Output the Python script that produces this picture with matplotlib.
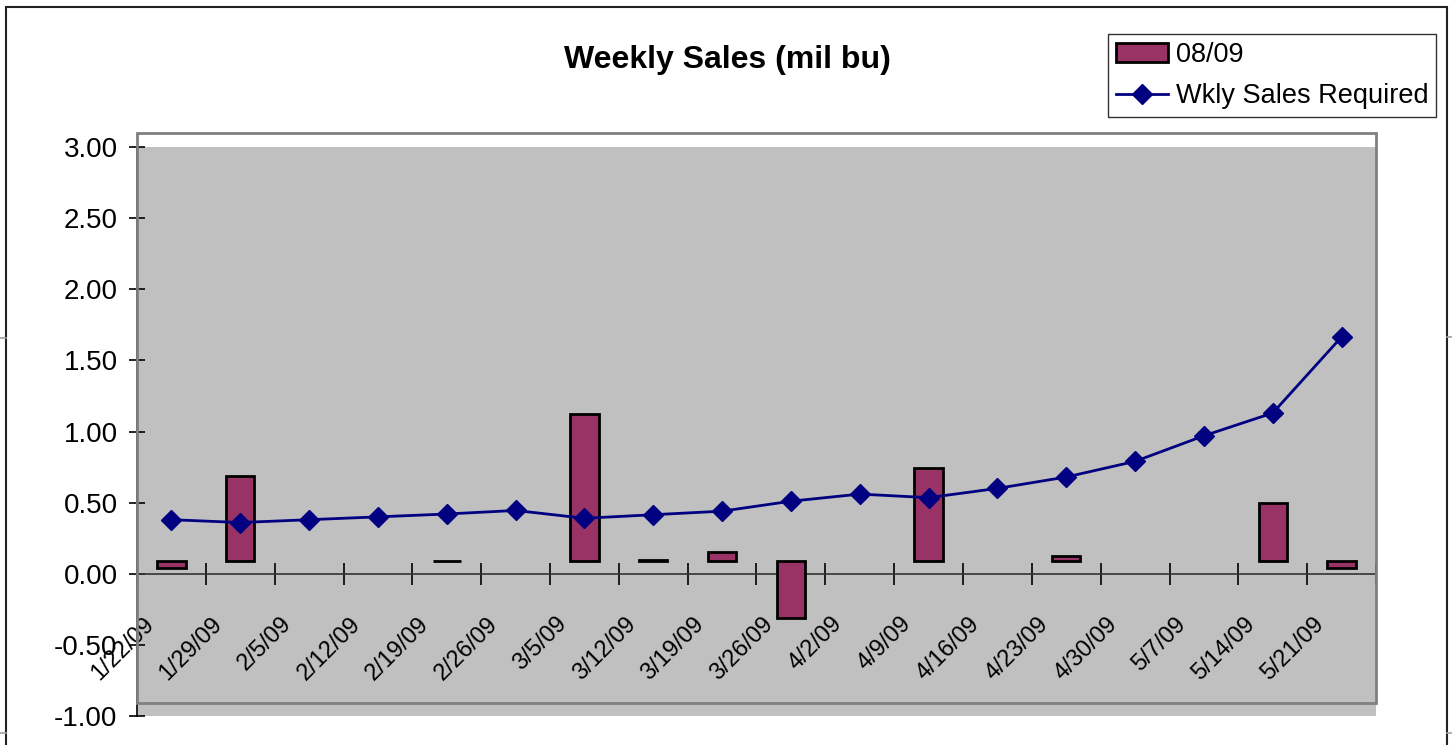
import numpy as np
import matplotlib
matplotlib.use("Agg")
import matplotlib.pyplot as plt
from matplotlib.patches import Rectangle
from matplotlib.lines import Line2D
from matplotlib.transforms import ScaledTranslation

plt.rcParams['font.family'] = ['Liberation Sans', 'DejaVu Sans']

categories = ['1/22/09', '1/29/09', '2/5/09', '2/12/09', '2/19/09', '2/26/09',
              '3/5/09', '3/12/09', '3/19/09', '3/26/09', '4/2/09', '4/9/09',
              '4/16/09', '4/23/09', '4/30/09', '5/7/09', '5/14/09', '5/21/09']
sales_0809 = [0.04, 0.69, np.nan, np.nan, 0.09, np.nan,
              1.12, 0.10, 0.155, -0.31, np.nan, 0.74,
              np.nan, 0.125, np.nan, np.nan, 0.50, 0.04]
bar_base = 0.09
wkly_required = [0.38, 0.36, 0.38, 0.40, 0.42, 0.445,
                 0.39, 0.415, 0.44, 0.51, 0.56, 0.535,
                 0.60, 0.68, 0.79, 0.97, 1.13, 1.665]
y_ticks = [-1.0, -0.5, 0.0, 0.5, 1.0, 1.5, 2.0, 2.5, 3.0]

W, H = 1452, 745
fig = plt.figure(figsize=(W / 100, H / 100), dpi=100)
fig.patch.set_facecolor('white')

def fx(px):
    return px / W

def fy(py):
    return 1 - py / H

ax_l, ax_r, ax_t, ax_b = 137, 1376, 147, 716
ax = fig.add_axes([fx(ax_l), fy(ax_b), fx(ax_r - ax_l), (ax_b - ax_t) / H])
ax.set_facecolor('#C0C0C0')

n = len(categories)
x = np.arange(n)
vals = np.array(sales_0809, dtype=float)
heights = vals - bar_base
bars = ax.bar(x, heights, bottom=bar_base, width=0.41, color='#993366',
              edgecolor='black', linewidth=2.0, zorder=3, label='08/09')
line, = ax.plot(x, wkly_required, color='#000080', linewidth=2.0, marker='D',
                markersize=10, zorder=4, label='Wkly Sales Required')

ax.set_xlim(-0.5, n - 0.5)
ax.set_ylim(-1.0, 3.0)

for s in ['top', 'right']:
    ax.spines[s].set_visible(False)
ax.spines['bottom'].set_position(('data', 0))
ax.spines['bottom'].set_color('#333333')
ax.spines['bottom'].set_linewidth(1.2)
ax.spines['left'].set_color('black')
ax.spines['left'].set_linewidth(1.2)

ax.set_yticks(y_ticks)
ax.set_yticklabels([f'{v:.2f}' for v in y_ticks], fontsize=20)
ax.tick_params(axis='y', direction='inout', length=12, width=1.2, pad=8)

ax.set_xticks(np.arange(n + 1) - 0.5)
ax.set_xticklabels([])
ax.set_xticks(x, minor=True)
ax.set_xticklabels(categories, minor=True, fontsize=17, rotation=45,
                   ha='right', va='center', rotation_mode='anchor')
ax.tick_params(axis='x', which='major', direction='inout', length=16, width=1.2)
ax.tick_params(axis='x', which='minor', length=0, pad=0)
off = ScaledTranslation(-21 / 100, -47 / 100, fig.dpi_scale_trans)
for lab in ax.get_xticklabels(minor=True):
    lab.set_transform(lab.get_transform() + off)

# plot-area border
fig.add_artist(Rectangle((fx(137), fy(703)), fx(1376 - 137), (703 - 133) / H,
                         transform=fig.transFigure, fill=False,
                         edgecolor='#808080', linewidth=2, zorder=5))
# chart outer frame
fig.add_artist(Rectangle((fx(6), -0.02), fx(1447 - 6), fy(7) + 0.02,
                         transform=fig.transFigure, fill=False,
                         edgecolor='#222222', linewidth=1.5))
# small page marks at the edges
for (x0, x1, yy) in [(0, 6, 338), (1447, 1452, 337), (0, 6, 733), (1447, 1452, 733)]:
    fig.add_artist(Line2D([fx(x0), fx(x1)], [fy(yy), fy(yy)],
                          transform=fig.transFigure, color='#A0A0A0', linewidth=1.2))

fig.text(fx(727), fy(60), 'Weekly Sales (mil bu)', fontsize=23,
         fontweight='bold', ha='center', va='center')

leg = fig.legend(handles=[bars, line], labels=['08/09', 'Wkly Sales Required'],
                 loc='upper left', bbox_to_anchor=(fx(1108), fy(34)),
                 bbox_transform=fig.transFigure, borderaxespad=0,
                 fontsize=19.5, frameon=True, fancybox=False,
                 edgecolor='black', handlelength=1.9, handletextpad=0.3,
                 labelspacing=0.55, borderpad=0.3)
leg.get_frame().set_linewidth(1.0)

fig.savefig('out.png', dpi=100)
